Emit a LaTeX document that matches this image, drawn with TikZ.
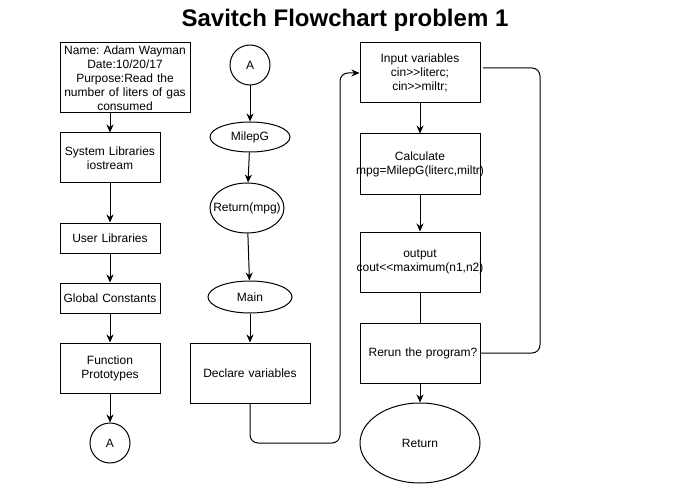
\documentclass[tikz,border=0pt]{standalone}
\usepackage{fontspec}
\setmainfont{Liberation Sans}
\usetikzlibrary{shapes.geometric,arrows.meta}
\frenchspacing
\begin{document}
\begin{tikzpicture}[x=1pt,y=-1pt,line width=1pt,
  every node/.style={font=\fontsize{12}{14}\selectfont},
  box/.style={draw, rectangle, inner sep=0pt, text width=#1, align=center},
  ell/.style={draw, ellipse, inner sep=0pt},
  circ/.style={draw, circle, inner sep=0pt, minimum size=40pt},
  arr/.style={-{Stealth[length=8pt,width=7pt]}},
  loopline/.style={rounded corners=8pt}]
\fill[white] (0,0) rectangle (691,484);
\useasboundingbox (0,0) rectangle (691,484);

\node[anchor=base, font=\fontsize{24}{28}\selectfont\bfseries] (title) at (345,27) {Savitch Flowchart problem 1};

% left column
\node[box=130pt, minimum height=70pt] (name) at (125,78) {Name: Adam Wayman\\Date:10/20/17\\Purpose:Read the\\number of liters of gas\\consumed};
\node[box=100pt, minimum height=50pt] (sys) at (110,158) {System Libraries\\iostream};
\node[box=100pt, minimum height=30pt] (user) at (110,238) {User Libraries};
\node[box=100pt, minimum height=30pt] (glob) at (110,298) {Global Constants};
\node[box=100pt, minimum height=50pt] (func) at (110,368) {Function\\Prototypes};
\node[circ] (a1) at (110,443) {A};

% middle column
\node[circ] (a2) at (250,65) {A};
\node[ell, minimum width=80pt, minimum height=30pt] (milep) at (250,137) {\makebox[0pt]{MilepG}};
\node[ell, minimum width=74pt, minimum height=50pt] (ret) at (247,208) {\makebox[0pt]{Return(mpg)}};
\node[ell, minimum width=84pt, minimum height=32pt] (mainn) at (250,297) {\makebox[0pt]{Main}};
\node[box=120pt, minimum height=60pt] (decl) at (250,373) {Declare variables};

% right column
\node[box=120pt, minimum height=60pt] (inp) at (420,73) {Input variables\\cin>{}>literc;\\cin>{}>miltr;};
\node[box=120pt, minimum height=60pt] (calc) at (420,164) {Calculate\\\makebox[120pt]{mpg=MilepG(literc,miltr)}};
\node[box=120pt, minimum height=60pt] (outp) at (420,262) {output\\\makebox[120pt]{cout<{}<maximum(n1,n2)}};
\node[box=120pt, minimum height=60pt] (rerun) at (420,353) {\hspace*{6pt}Rerun the program?};
\node[ell, minimum width=120pt, minimum height=80pt] (retn) at (420,443) {\makebox[0pt]{Return}};

% connectors left
\draw[arr] (sys.north |- name.south) -- (sys.north);
\draw[arr] (sys) -- (user);
\draw[arr] (user) -- (glob);
\draw[arr] (glob) -- (func);
\draw[arr] (func) -- (a1);

% connectors middle
\draw[arr] (a2) -- (milep);
\draw[arr] (milep) -- (ret);
\draw[arr] (ret) -- (mainn);
\draw[arr] (mainn) -- (decl);

\coordinate (lc) at (340,443);
\draw[arr, loopline] (decl.south) |- (lc) -- (lc |- inp.west) -- (inp.west);

% connectors right
\draw[arr] (inp) -- (calc);
\draw[arr] (calc) -- (outp);
\draw (outp) -- (rerun);
\draw[arr] (rerun) -- (retn);

\coordinate (rc) at (540,68);
\coordinate (rend) at (483,68);
\draw[loopline] (rerun.east) -| (rc) -- (rend);
\end{tikzpicture}
\end{document}
